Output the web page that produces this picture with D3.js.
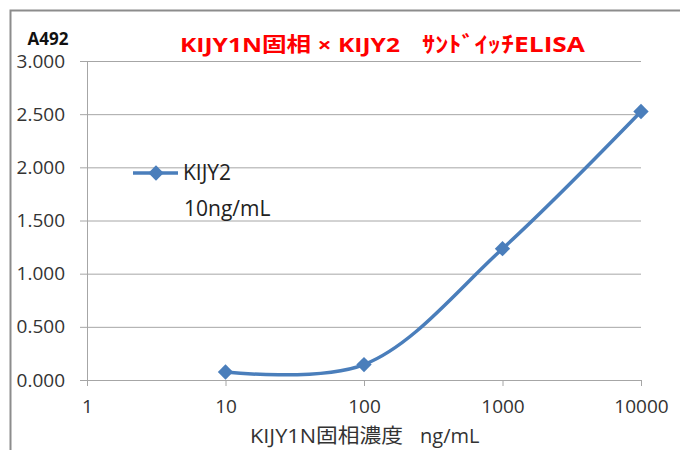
<!DOCTYPE html>
<meta charset="utf-8">
<style>
body { margin: 0; background: #fff; }
text { font-family: "Open Sans", "Noto Sans CJK JP", sans-serif; }
</style>
<svg width="680" height="450"></svg>
<script src="https://d3js.org/d3.v7.min.js"></script>
<script>

// data
var concentrations = [10, 100, 1000, 10000];
var absorbance = [0.075, 0.145, 1.235, 2.525];
var xTicks = [1, 10, 100, 1000, 10000];
var yTicks = [0, 0.5, 1, 1.5, 2, 2.5, 3];
var seriesName = "KIJY2";
var seriesNote = "10ng/mL";

var svg = d3.select("svg"),
    width = +svg.attr("width"),
    height = +svg.attr("height");

var margin = {top: 61, right: 39, bottom: 70, left: 87};

var x = d3.scaleLog()
    .domain([1, 10000])
    .range([margin.left, width - margin.right]);

var y = d3.scaleLinear()
    .domain([0, 3])
    .range([height - margin.bottom, margin.top]);

// outer chart frame (cut off at right/bottom)
svg.append("path")
    .attr("d", "M10.5,452 V10.5 H682")
    .attr("fill", "none")
    .attr("stroke", "#8c8c8c")
    .attr("stroke-width", 2);

// horizontal gridlines + y ticks
svg.append("g")
    .attr("transform", "translate(" + margin.left + ",0)")
    .call(d3.axisLeft(y)
        .tickValues(yTicks)
        .tickSize(-(width - margin.left - margin.right))
        .tickSizeOuter(0)
        .tickPadding(22)
        .tickFormat(d3.format(".3f")))
    .call(function(g) {
      g.select(".domain").remove();
      g.selectAll(".tick line")
          .attr("x1", -7)
          .attr("stroke", "#a6a6a6");
      g.selectAll(".tick text")
          .attr("fill", "#333")
          .style("font-size", "19px");
    });

// y axis line
svg.append("line")
    .attr("x1", margin.left + 0.5).attr("x2", margin.left + 0.5)
    .attr("y1", y(3)).attr("y2", y(0) + 6)
    .attr("stroke", "#a6a6a6");

// x axis
svg.append("g")
    .attr("transform", "translate(0," + y(0) + ")")
    .call(d3.axisBottom(x)
        .tickValues(xTicks)
        .tickSize(6)
        .tickSizeOuter(0)
        .tickPadding(14)
        .tickFormat(d3.format("d")))
    .call(function(g) {
      g.select(".domain").attr("stroke", "#a6a6a6");
      g.selectAll(".tick line").attr("stroke", "#a6a6a6");
      g.selectAll(".tick text")
          .attr("fill", "#333")
          .style("font-size", "19px");
    });

var points = concentrations.map(function(c, i) { return [c, absorbance[i]]; });

var line = d3.line()
    .x(function(d) { return x(d[0]); })
    .y(function(d) { return y(d[1]); })
    .curve(d3.curveCatmullRom.alpha(0.5));

svg.append("path")
    .datum(points)
    .attr("d", line)
    .attr("fill", "none")
    .attr("stroke", "#4a7ebb")
    .attr("stroke-width", 3.5);

var diamond = d3.symbol().type(d3.symbolDiamond2).size(150);

svg.append("g")
  .selectAll("path")
  .data(points)
  .enter().append("path")
    .attr("d", diamond)
    .attr("transform", function(d) { return "translate(" + x(d[0]) + "," + y(d[1]) + ")"; })
    .attr("fill", "#4a7ebb");

// legend
var legend = svg.append("g").attr("transform", "translate(133,173)");
legend.append("line")
    .attr("x1", 0).attr("x2", 45)
    .attr("stroke", "#4a7ebb")
    .attr("stroke-width", 3.5);
legend.append("path")
    .attr("d", diamond)
    .attr("transform", "translate(23,0)")
    .attr("fill", "#4a7ebb");
legend.append("text")
    .attr("x", 50).attr("y", 0)
    .attr("dy", "0.35em")
    .attr("fill", "#222")
    .style("font-size", "21px")
    .text(seriesName);
legend.append("text")
    .attr("x", 51).attr("y", 36)
    .attr("dy", "0.35em")
    .attr("fill", "#222")
    .style("font-size", "21px")
    .text(seriesNote);

// titles
svg.append("text")
    .attr("x", 48).attr("y", 45)
    .attr("text-anchor", "middle")
    .attr("fill", "#111")
    .style("font-size", "17px")
    .style("font-weight", "bold")
    .text("A492");

var title = svg.append("g")
    .attr("fill", "#ff0000")
    .style("font-weight", "bold");
title.append("text")
    .attr("x", 180).attr("y", 52)
    .attr("textLength", 220)
    .attr("lengthAdjust", "spacingAndGlyphs")
    .style("font-size", "20px")
    .text("KIJY1N固相 × KIJY2");
title.append("text")
    .attr("x", 422).attr("y", 52)
    .attr("textLength", 163)
    .attr("lengthAdjust", "spacingAndGlyphs")
    .style("font-size", "22px")
    .text("ｻﾝﾄﾞｲｯﾁELISA");

var xTitle = svg.append("g")
    .attr("fill", "#333")
    .style("font-size", "20px");
xTitle.append("text")
    .attr("x", 250).attr("y", 443)
    .attr("textLength", 153)
    .attr("lengthAdjust", "spacingAndGlyphs")
    .text("KIJY1N固相濃度");
xTitle.append("text")
    .attr("x", 420).attr("y", 443)
    .text("ng/mL");

</script>
